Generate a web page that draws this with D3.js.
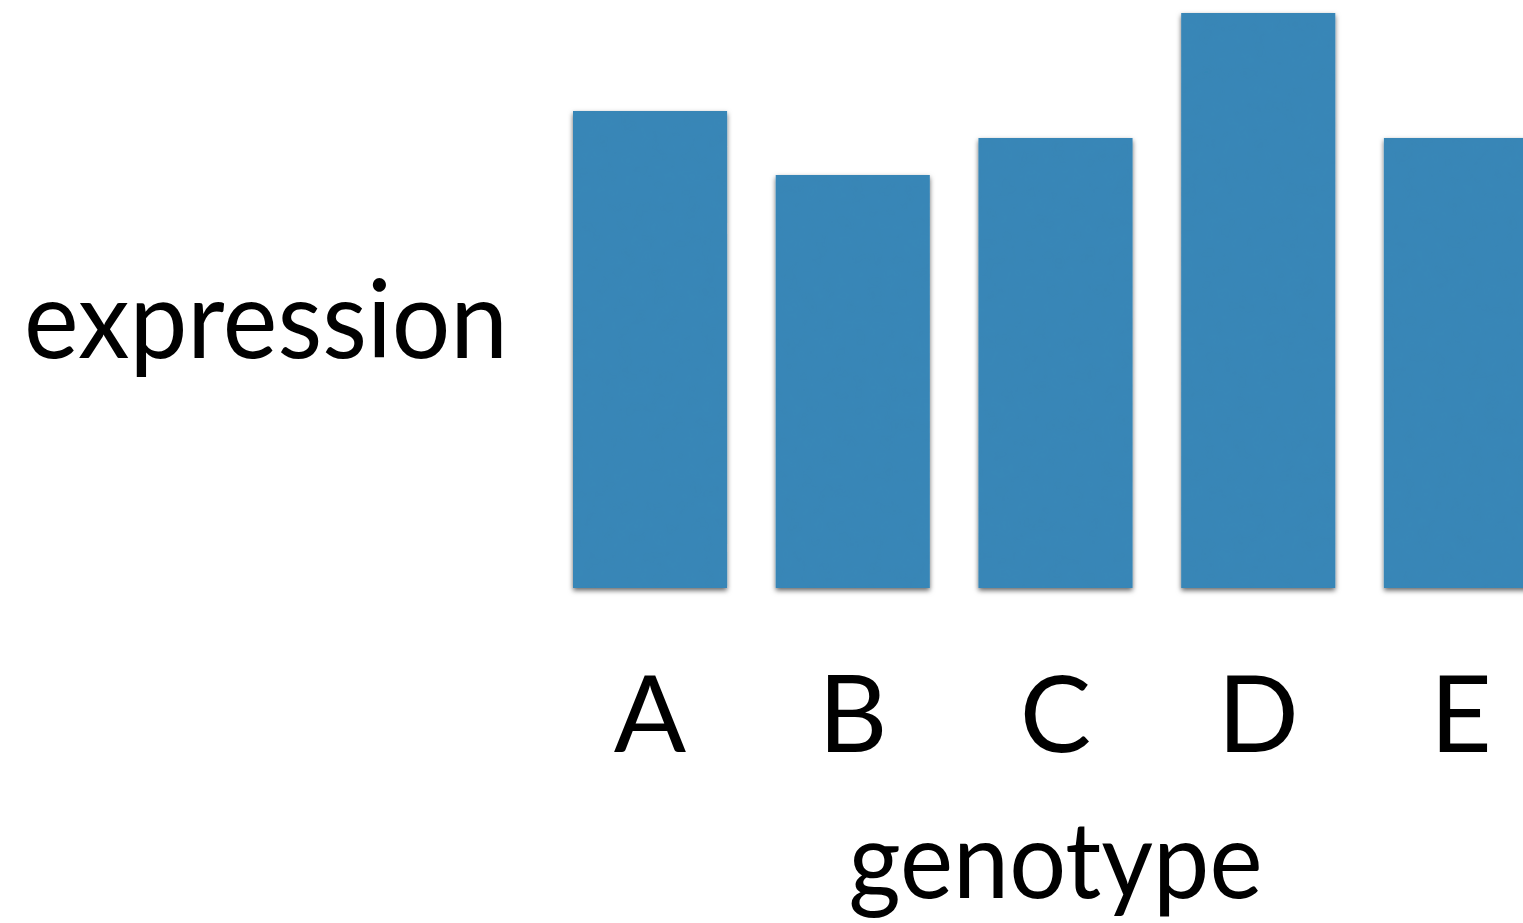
<!DOCTYPE html>
<html>
<head>
<meta charset="utf-8">
<script src="https://cdn.jsdelivr.net/npm/d3@7"></script>
<style>
  html, body { margin: 0; padding: 0; background: #fff; overflow: hidden; }
  svg { display: block; }
  text { font-family: "Gill Sans", "Lato", "Open Sans", sans-serif; fill: #000; }
</style>
</head>
<body>
<svg id="chart" width="1523" height="923"></svg>
<script>
// Genotype categories and their expression levels
const genotypes = ["A", "B", "C", "D", "E"];
const expression = [4.77, 4.13, 4.50, 5.75, 4.50];
const xTitle = "genotype";
const yTitle = "expression";

const W = 1523, H = 923;
const svg = d3.select("#chart");

const defs = svg.append("defs");

// soft drop shadow under each bar
const shadow = defs.append("filter")
  .attr("id", "barShadow")
  .attr("x", "-10%").attr("y", "-5%")
  .attr("width", "120%").attr("height", "115%");
shadow.append("feDropShadow")
  .attr("dx", 0).attr("dy", 2.5)
  .attr("stdDeviation", 2.5)
  .attr("flood-color", "#000")
  .attr("flood-opacity", 0.6);

// faint paper grain on the bar fill
const grain = defs.append("filter")
  .attr("id", "grain")
  .attr("x", 0).attr("y", 0).attr("width", "100%").attr("height", "100%");
grain.append("feTurbulence")
  .attr("type", "fractalNoise")
  .attr("baseFrequency", 0.06)
  .attr("numOctaves", 3)
  .attr("seed", 7)
  .attr("result", "noise");
grain.append("feColorMatrix")
  .attr("in", "noise")
  .attr("type", "matrix")
  .attr("values", "0 0 0 0 0  0 0 0 0 0.2  0 0 0 0 0.35  0 0 0 0.1 0")
  .attr("result", "tint");
grain.append("feComposite")
  .attr("in", "tint").attr("in2", "SourceGraphic").attr("operator", "in")
  .attr("result", "tintIn");
grain.append("feMerge").selectAll("feMergeNode")
  .data(["SourceGraphic", "tintIn"]).enter()
  .append("feMergeNode").attr("in", d => d);

const plotLeft = 573, plotRight = 1538, baseY = 588;

const x = d3.scaleBand()
  .domain(genotypes)
  .range([plotLeft, plotRight])
  .paddingInner(0.24)
  .paddingOuter(0);

const y = d3.scaleLinear()
  .domain([0, 6])
  .range([baseY, baseY - 600]);

const data = genotypes.map((g, i) => ({ g, v: expression[i] }));

const bars = svg.append("g").attr("filter", "url(#barShadow)");
bars.selectAll("rect")
  .data(data)
  .enter()
  .append("rect")
  .attr("x", d => x(d.g))
  .attr("y", d => y(d.v))
  .attr("width", x.bandwidth())
  .attr("height", d => y(0) - y(d.v))
  .attr("fill", "#3a87b8")
  .attr("filter", "url(#grain)");

// category labels under the bars
svg.append("g").selectAll("text")
  .data(genotypes)
  .enter()
  .append("text")
  .attr("x", d => x(d) + x.bandwidth() / 2)
  .attr("y", 752)
  .attr("text-anchor", "middle")
  .attr("font-size", 107)
  .text(d => d);

// axis titles
svg.append("text")
  .attr("x", (plotLeft + plotRight) / 2)
  .attr("y", 898)
  .attr("text-anchor", "middle")
  .attr("font-size", 106)
  .attr("textLength", 414)
  .attr("lengthAdjust", "spacingAndGlyphs")
  .text(xTitle);

svg.append("text")
  .attr("x", 24)
  .attr("y", 358)
  .attr("text-anchor", "start")
  .attr("font-size", 108)
  .attr("textLength", 484)
  .attr("lengthAdjust", "spacingAndGlyphs")
  .text(yTitle);
</script>
</body>
</html>
